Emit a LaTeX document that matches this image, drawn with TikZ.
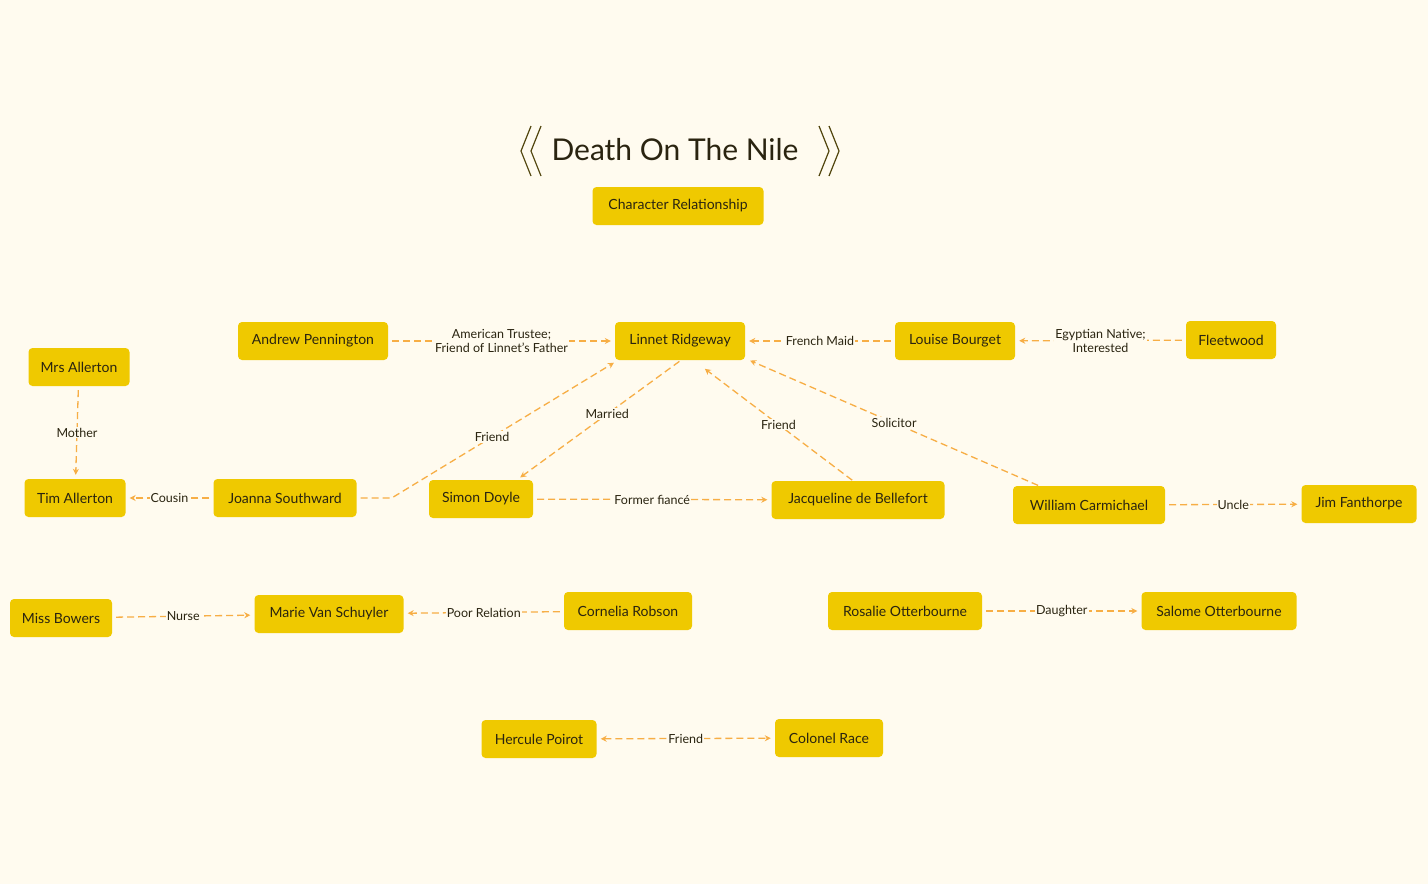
\documentclass[tikz,border=0pt]{standalone}
\usepackage{fontspec}
\setmainfont{Lato}
\usetikzlibrary{arrows.meta,calc}
\definecolor{bg}{HTML}{FFFBEF}
\definecolor{box}{HTML}{EFC900}
\definecolor{ln}{HTML}{F7AE45}
\definecolor{tx}{HTML}{2A2410}
\begin{document}
\begin{tikzpicture}[x=1pt,y=-1pt,
  nd/.style={fill=box,rounded corners=4pt,minimum height=38pt,inner sep=0pt,text=tx,font=\fontsize{14}{16}\selectfont},
  ed/.style={draw=ln,dash pattern=on 7pt off 4pt,line width=1.3pt,-{Stealth[length=6pt,width=6pt]},shorten >=4pt,shorten <=4pt},
  lb/.style={fill=bg,text=tx,font=\fontsize{12.5}{14}\selectfont,inner sep=1pt,align=center}]
\fill[bg] (0,0) rectangle (1428,884);
\node[text=tx,font=\fontsize{30}{34}\selectfont] (title) at (675,150) {Death On The Nile};
\draw[tx!80!box,line width=1.2pt] (531,126)--(521,151)--(531,176) (541,126)--(531,151)--(541,176)
  (819,126)--(829,151)--(819,176) (829,126)--(839,151)--(829,176);
\node[nd,minimum width=171pt] (cr) at (678,206) {Character Relationship};
\node[nd,minimum width=150pt] (ap) at (313,341) {Andrew Pennington};
\node[nd,minimum width=130pt] (lr) at (680,341) {Linnet Ridgeway};
\node[nd,minimum width=120pt] (lb) at (955,341) {Louise Bourget};
\node[nd,minimum width=90pt] (fw) at (1231,340) {Fleetwood};
\node[nd,minimum width=101pt] (ma) at (79,367) {Mrs Allerton};
\node[nd,minimum width=101pt] (ta) at (75,498) {Tim Allerton};
\node[nd,minimum width=143pt] (js) at (285,498) {Joanna Southward};
\node[nd,minimum width=104pt] (sd) at (481,499) {Simon Doyle};
\node[nd,minimum width=173pt] (jb) at (858,500) {Jacqueline de Bellefort};
\node[nd,minimum width=152pt] (wc) at (1089,505) {William Carmichael};
\node[nd,minimum width=115pt] (jf) at (1359,504) {Jim Fanthorpe};
\node[nd,minimum width=102pt] (mb) at (61,618) {Miss Bowers};
\node[nd,minimum width=149pt] (mv) at (329,614) {Marie Van Schuyler};
\node[nd,minimum width=128pt] (co) at (628,611) {Cornelia Robson};
\node[nd,minimum width=154pt] (ro) at (905,611) {Rosalie Otterbourne};
\node[nd,minimum width=155pt] (so) at (1219,611) {Salome Otterbourne};
\node[nd,minimum width=115pt] (hp) at (539,739) {Hercule Poirot};
\node[nd,minimum width=108pt] (rc) at (829,738) {Colonel Race};

\draw[ed] (ap) -- node[lb]{American Trustee;\\Friend of Linnet's Father} (lr);
\draw[ed] (lb) -- node[lb]{French Maid} (lr);
\draw[ed] (fw) -- node[lb]{Egyptian Native;\\Interested} (lb);
\draw[ed] (ma) -- node[lb]{Mother} (ta);
\draw[ed] (js) -- node[lb]{Cousin} (ta);
\draw[ed,shorten >=1pt] (js.east) -- ++(35,0) -- node[lb,pos=0.45]{Friend} ($(lr.south west)+(0,2)$);
\draw[ed,shorten <=2pt] ($(lr.south)+(1,0)$) -- node[lb,pos=0.45]{Married} ($(sd.north)+(36,0)$);
\draw[ed] (sd) -- node[lb]{Former fiancé} (jb);
\draw[ed,shorten >=1pt,shorten <=1pt] ($(jb.north)+(-5,0)$) -- node[lb]{Friend} ($(lr.south)+(24,8)$);
\draw[ed,shorten >=1pt,shorten <=1pt] ($(wc.north)+(-50,0)$) -- node[lb]{Solicitor} ($(lr.south east)+(4,0)$);
\draw[ed] (wc) -- node[lb]{Uncle} (jf);
\draw[ed] (mb) -- node[lb]{Nurse} (mv);
\draw[ed] (co) -- node[lb]{Poor Relation} (mv);
\draw[ed] (ro) -- node[lb]{Daughter} (so);
\draw[ed,{Stealth[length=6pt,width=6pt]}-{Stealth[length=6pt,width=6pt]}] (hp) -- node[lb]{Friend} (rc);
\end{tikzpicture}
\end{document}
